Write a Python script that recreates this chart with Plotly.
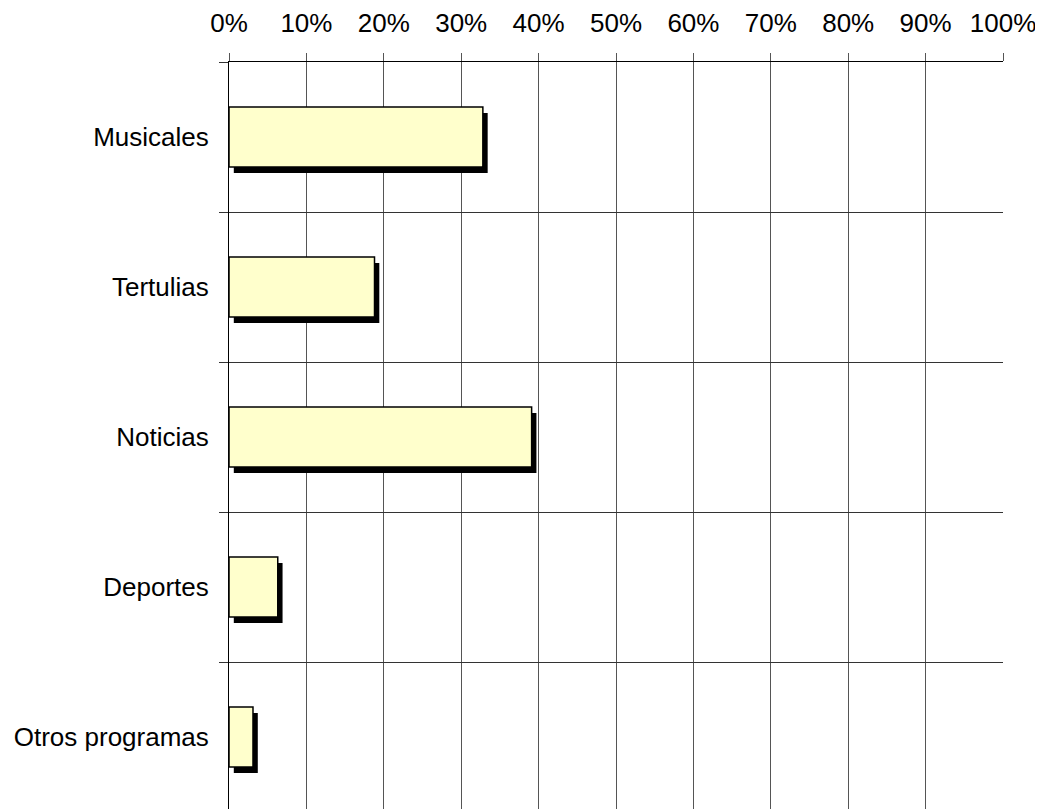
import plotly.graph_objects as go

categories = ["Musicales", "Tertulias", "Noticias", "Deportes", "Otros programas"]
values = [0.328, 0.188, 0.391, 0.063, 0.031]
x_ticks = [0, 0.1, 0.2, 0.3, 0.4, 0.5, 0.6, 0.7, 0.8, 0.9, 1.0]
x_tick_labels = ["0%", "10%", "20%", "30%", "40%", "50%", "60%", "70%", "80%", "90%", "100%"]

shadow_dx = 0.0062
fig = go.Figure()
fig.add_trace(go.Bar(
    y=categories, x=values, base=[shadow_dx] * len(values), orientation="h",
    width=0.4, offset=-0.16,
    marker=dict(color="black", line=dict(width=0)),
    hoverinfo="skip", showlegend=False,
))
fig.add_trace(go.Bar(
    y=categories, x=values, orientation="h",
    width=0.4, offset=-0.2,
    marker=dict(color="#FFFFCC", line=dict(color="black", width=1.5)),
    showlegend=False,
))

fig.update_layout(
    width=1035, height=801,
    margin=dict(l=221, r=40, t=54, b=0),
    barmode="overlay",
    plot_bgcolor="white", paper_bgcolor="white",
    font=dict(family="Liberation Sans, Arial, sans-serif", size=26, color="black"),
    xaxis=dict(
        side="top", range=[0, 1], tickvals=x_ticks, ticktext=x_tick_labels,
        showgrid=True, gridcolor="#555555", gridwidth=1,
        ticks="outside", ticklen=8, tickcolor="#555555",
        ticklabelstandoff=11,
        showline=True, linecolor="black", linewidth=1,
        zeroline=False, fixedrange=True, automargin=False,
    ),
    yaxis=dict(
        type="category", categoryorder="array", categoryarray=categories,
        range=[4.48, -0.5], tickson="boundaries",
        showgrid=True, gridcolor="#333333", gridwidth=1,
        ticks="outside", ticklen=9, tickcolor="#333333",
        ticklabelstandoff=14,
        showline=True, linecolor="black", linewidth=1,
        zeroline=False, fixedrange=True, automargin=False,
    ),
)

fig.write_html("out.html")
